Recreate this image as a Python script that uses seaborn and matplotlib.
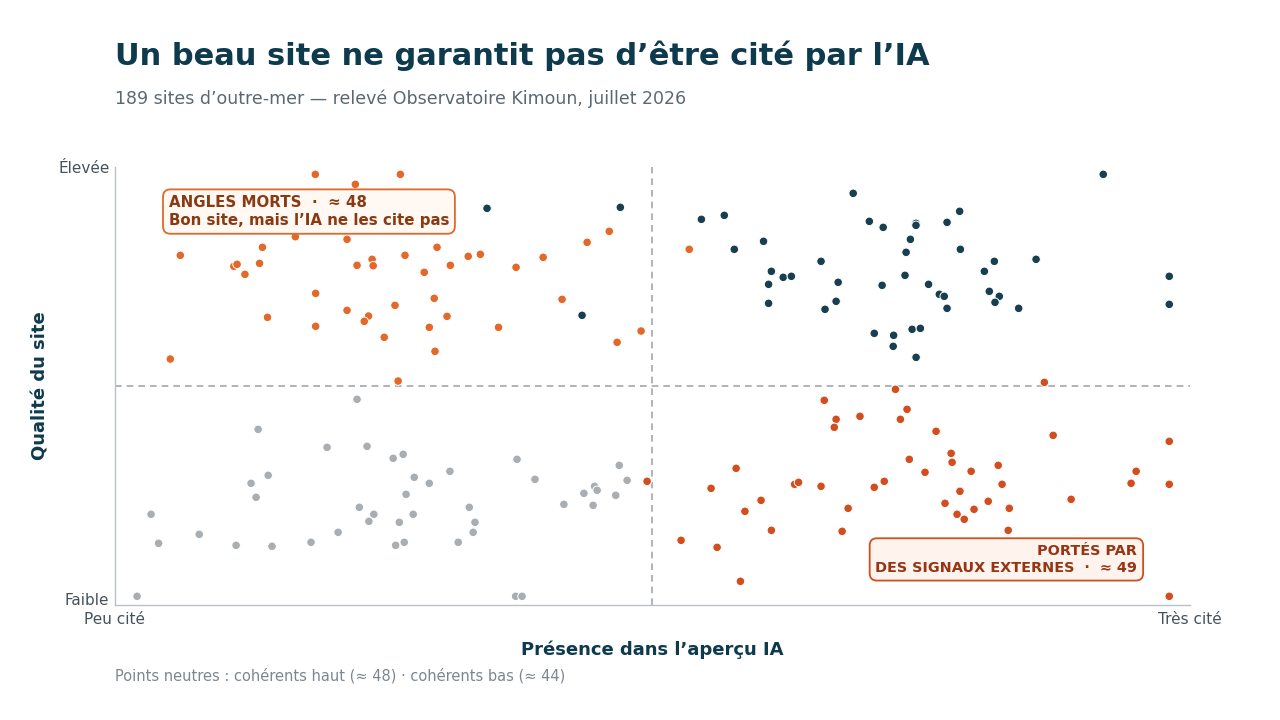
import numpy as np
import pandas as pd
import matplotlib
matplotlib.use("Agg")
import matplotlib.pyplot as plt
import matplotlib.transforms as mtransforms
import seaborn as sns

# valeurs, échelle 0-100 (présence IA, qualité du site)
angles_x = [18.64, 26.55, 22.36, 45.98, 43.92, 16.78, 21.59, 13.72, 29.96, 6.08,
            26.98, 32.86, 33.99, 39.83, 11.06, 11.36, 12.09, 13.45, 22.52, 23.92,
            24.02, 28.77, 31.2, 37.31, 18.67, 29.7, 41.59, 14.19, 21.59, 23.59,
            23.19, 26.05, 30.89, 18.67, 29.24, 35.68, 48.94, 46.71, 25.05, 29.77,
            5.15, 26.34, 53.42]
angles_y = [98.33, 98.33, 96.05, 85.32, 82.81, 84.09, 83.49, 81.67, 81.67, 79.84,
            79.84, 79.61, 80.07, 79.38, 77.33, 77.79, 75.5, 78.01, 77.56, 78.93,
            77.47, 75.96, 77.56, 77.1, 71.16, 70.02, 69.79, 65.68, 67.28, 65.98,
            64.77, 68.42, 65.91, 63.63, 63.4, 63.4, 62.56, 59.98, 61.12, 57.92,
            56.16, 51.14, 81.21]

haut_x = [91.93, 68.67, 54.55, 56.68, 70.17, 71.46, 74.51, 74.51, 77.4, 78.57,
          73.99, 57.61, 60.33, 73.59, 78.64, 85.68, 65.68, 81.8, 80.87, 61.06,
          62.16, 62.92, 98.07, 73.49, 67.27, 60.8, 71.36, 75.68, 76.68, 77.14,
          81.33, 82.26, 81.86, 60.8, 67.08, 66.05, 77.4, 84.06, 98.07, 70.63,
          72.43, 74.15, 74.92, 72.39, 74.52, 34.61, 47.01, 43.45]
haut_y = [98.33, 94.0, 88.06, 88.97, 87.6, 86.23, 87.15, 86.69, 87.37, 89.89,
          83.49, 81.21, 83.04, 80.53, 81.21, 78.93, 78.47, 78.47, 76.19, 76.19,
          74.82, 75.05, 75.05, 75.27, 73.68, 73.22, 72.99, 73.22, 70.94, 70.48,
          71.62, 70.48, 69.11, 68.88, 69.34, 67.51, 67.74, 67.74, 68.65, 62.03,
          61.58, 62.95, 63.17, 59.06, 56.55, 90.57, 90.8, 66.14]

bas_x = [22.52, 13.32, 19.73, 23.45, 25.88, 26.81, 37.4, 14.25, 12.66, 13.13,
         27.84, 29.24, 31.16, 27.08, 39.07, 46.91, 47.64, 44.61, 44.85, 43.62,
         46.58, 41.76, 44.48, 3.36, 22.73, 24.08, 23.62, 27.74, 26.45, 32.96,
         33.49, 33.32, 4.06, 7.84, 11.27, 14.61, 18.24, 20.76, 26.11, 26.91,
         31.93, 2.06, 37.27, 37.87]
bas_y = [46.96, 40.11, 36.0, 36.23, 33.49, 34.41, 33.26, 29.61, 27.79, 24.59,
         29.16, 27.79, 30.53, 25.27, 28.7, 31.89, 28.47, 27.1, 26.19, 25.5,
         25.05, 22.99, 22.76, 20.71, 22.31, 20.71, 19.11, 20.71, 18.88, 22.31,
         18.88, 16.6, 14.09, 16.14, 13.63, 13.4, 14.32, 16.6, 13.63, 14.32,
         14.32, 1.99, 1.99, 1.99]

externes_x = [86.45, 72.6, 65.98, 67.08, 66.91, 69.3, 73.06, 73.68, 76.38, 87.27,
              98.07, 77.78, 77.87, 73.89, 75.35, 82.16, 79.64, 57.78, 49.5, 55.45,
              63.22, 63.59, 65.68, 70.63, 71.56, 82.52, 94.52, 94.99, 98.07, 88.94,
              78.6, 60.1, 58.6, 68.2, 77.21, 81.23, 78.33, 79.0, 79.91, 83.19,
              83.09, 61.06, 67.64, 52.66, 56.01, 58.18, 98.07]
externes_y = [50.84, 49.25, 46.74, 42.4, 40.57, 43.08, 42.4, 44.68, 39.66, 38.74,
              37.37, 34.63, 32.58, 33.26, 30.3, 31.89, 30.53, 31.21, 28.24, 26.64,
              27.56, 28.01, 27.1, 26.87, 28.24, 27.56, 27.79, 30.53, 27.56, 24.13,
              25.96, 23.9, 21.39, 22.08, 23.22, 23.68, 20.71, 19.57, 21.85, 22.08,
              17.05, 17.05, 16.83, 14.77, 13.17, 5.41, 1.99]

groupes = ["bas", "haut", "angles", "externes"]
couleurs = {"angles": "#E2692A", "externes": "#D24E1E",
            "haut": "#173F4F", "bas": "#A9AEB3"}

df = pd.concat([
    pd.DataFrame({"x": bas_x, "y": bas_y, "groupe": "bas"}),
    pd.DataFrame({"x": haut_x, "y": haut_y, "groupe": "haut"}),
    pd.DataFrame({"x": angles_x, "y": angles_y, "groupe": "angles"}),
    pd.DataFrame({"x": externes_x, "y": externes_y, "groupe": "externes"}),
], ignore_index=True)

sns.set_theme(style="white")
plt.rcParams["font.family"] = ["DejaVu Sans"]

navy = "#0E3A4E"
fig = plt.figure(figsize=(12.8, 7.2), dpi=100)
ax = fig.add_axes([0.0898, 0.1597, 0.8399, 0.6083])

sns.scatterplot(data=df, x="x", y="y", hue="groupe", hue_order=groupes,
                palette=couleurs, s=38, edgecolor="white", linewidth=0.7,
                legend=False, ax=ax, zorder=3)

ax.axvline(50, color="#A3A7AB", lw=1.2, ls=(0, (4, 3)), zorder=1)
ax.axhline(50, color="#A3A7AB", lw=1.2, ls=(0, (4, 3)), zorder=1)

ax.set_xlim(0, 100)
ax.set_ylim(0, 100)
ax.set_xticks([0, 100])
ax.set_xticklabels(["Peu cité", "Très cité"])
ax.set_yticks([0, 100])
ax.set_yticklabels(["Faible", "Élevée"])
ax.tick_params(length=0, labelsize=11, labelcolor="#46525B")
ax.tick_params(axis="x", pad=5)
ax.tick_params(axis="y", pad=4)
for s in ["top", "right"]:
    ax.spines[s].set_visible(False)
for s in ["left", "bottom"]:
    ax.spines[s].set_color("#BCC1C5")
    ax.spines[s].set_linewidth(1)
# "Faible" un peu plus haut pour ne pas chevaucher "Peu cité"
lab = ax.get_yticklabels()[0]
lab.set_transform(lab.get_transform() +
                  mtransforms.ScaledTranslation(0, 4 / 72, fig.dpi_scale_trans))

ax.set_xlabel("Présence dans l’aperçu IA", fontsize=13, fontweight="bold",
              color=navy, labelpad=10)
ax.set_ylabel("Qualité du site", fontsize=13, fontweight="bold",
              color=navy, labelpad=6)

ax.text(5.0, 93.6, "ANGLES MORTS  ·  ≈ 48\nBon site, mais l’IA ne les cite pas",
        ha="left", va="top", fontsize=10.8, fontweight="bold", color="#8A3A12",
        linespacing=1.25, zorder=5,
        bbox=dict(boxstyle="round,pad=0.38,rounding_size=0.5", fc="#FFF8F3",
                  ec="#DD6A2E", lw=1.3))
ax.text(95.1, 6.9, "PORTÉS PAR\nDES SIGNAUX EXTERNES  ·  ≈ 49",
        ha="right", va="bottom", fontsize=10.4, fontweight="bold", color="#973414",
        linespacing=1.25, multialignment="right", zorder=5,
        bbox=dict(boxstyle="round,pad=0.4,rounding_size=0.5", fc="#FFF3EE",
                  ec="#D24E1E", lw=1.3))

fig.text(0.0898, 0.923, "Un beau site ne garantit pas d’être cité par l’IA",
         fontsize=22, fontweight="bold", color=navy, va="center")
fig.text(0.0898, 0.863, "189 sites d’outre-mer — relevé Observatoire Kimoun, juillet 2026",
         fontsize=12.5, color="#5C6870", va="center")
fig.text(0.0898, 0.061, "Points neutres : cohérents haut (≈ 48) · cohérents bas (≈ 44)",
         fontsize=10.5, color="#7C878F", va="center")

fig.savefig("out.png", dpi=100, facecolor="white")
